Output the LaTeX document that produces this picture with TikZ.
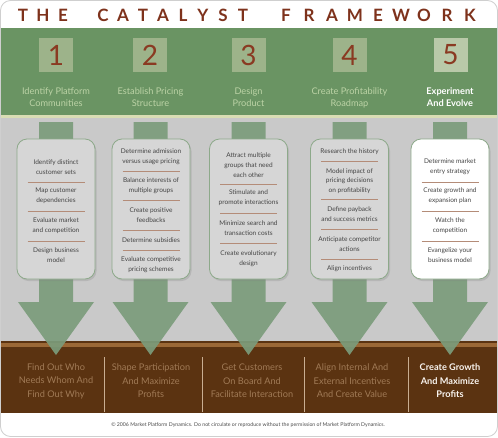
\documentclass[tikz,border=0pt]{standalone}
\usepackage{fontspec}
\setmainfont{Lato}
\usetikzlibrary{shadows}
\definecolor{titlered}{HTML}{7E321C}
\definecolor{bandgreen}{HTML}{6A9463}
\definecolor{numbox}{HTML}{9DB38A}
\definecolor{numboxfive}{HTML}{B9C9A9}
\definecolor{numred}{HTML}{8A3A22}
\definecolor{hdrtext}{HTML}{BCD3A6}
\definecolor{stripe}{HTML}{D9DDB4}
\definecolor{graybg}{HTML}{C9C9C9}
\definecolor{boxfill}{HTML}{D6D6D6}
\definecolor{boxedge}{HTML}{8DA98A}
\definecolor{arrowgreen}{HTML}{7B9C7B}
\definecolor{darkbrown}{HTML}{5B3311}
\definecolor{brownline}{HTML}{9B6836}
\definecolor{sepcol}{HTML}{B48C78}
\definecolor{bottomtext}{HTML}{A07A56}
\definecolor{divcol}{HTML}{C9AE92}
\definecolor{framecol}{HTML}{CFCFCF}
\definecolor{boxtext}{HTML}{454545}
\tikzset{
  titleletter/.style={text=titlered, font=\fontsize{17}{17}\selectfont\bfseries, inner sep=0pt},
  numsq/.style={fill=numbox, minimum width=34pt, minimum height=34pt, inner sep=0pt, text=numred, font=\fontsize{28}{28}\selectfont},
  hdr/.style={text=hdrtext, align=center, font=\fontsize{9.2}{12}\selectfont, inner sep=0pt},
  stepbox/.style={draw=boxedge, line width=0.8pt, fill=boxfill, rounded corners=10pt, minimum width=78pt, minimum height=140pt, inner sep=0pt, drop shadow={shadow xshift=1.5pt, shadow yshift=-2pt, opacity=0.25}},
  item/.style={text=boxtext, align=center, font=\fontsize{6.5}{9.8}\selectfont, inner sep=0pt},
  sepline/.style={draw=sepcol, line width=0.9pt},
  bottomtxt/.style={text=bottomtext, align=center, font=\fontsize{9.2}{13.5}\selectfont, inner sep=0pt},
  divline/.style={draw=divcol, line width=0.9pt},
}
\begin{document}
\begin{tikzpicture}[x=1pt,y=-1pt]
\useasboundingbox (0,0) rectangle (498,437);
% background bands
\begin{scope}
\clip[rounded corners=10pt] (0.5,0.5) rectangle (497.5,436.5);
\fill[white] (0,0) rectangle (498,437);
\fill[bandgreen] (0,28) rectangle (498,115);
\fill[stripe] (0,115) rectangle (498,118);
\fill[graybg] (0,118) rectangle (498,341);
\fill[darkbrown] (0,341) rectangle (498,413);
\fill[brownline] (0,342.5) rectangle (498,346.5);
\end{scope}
\draw[framecol, rounded corners=10pt, line width=0.8pt] (0.5,0.5) rectangle (497.5,436.5);
% title
\foreach \ch/\x/\nm in {T/23/a,H/43/b,E/63/c,C/103/d,A/123/e,T/143/f,A/163/g,L/183/h,Y/203/i,S/223/j,T/243/k,F/286/l,R/309/m,A/332/n,M/355/o,E/378/p,W/401/q,O/424/r,R/447/s,K/470/t}
  \node[titleletter] (title\nm) at (\x,15) {\ch};
% numbers
\node[numsq] (n1) at (56,55) {1};
\node[numsq] (n2) at (150,55) {2};
\node[numsq] (n3) at (248.5,55) {3};
\node[numsq] (n4) at (349.5,55) {4};
\node[numsq, fill=numboxfive] (n5) at (450.5,55) {5};
% header labels
\node[hdr] (h1) at (56,97.5) {Identify Platform\\Communities};
\node[hdr] (h2) at (150.5,97.5) {Establish Pricing\\Structure};
\node[hdr] (h3) at (248.5,97.5) {Design\\Product};
\node[hdr] (h4) at (349.5,97.5) {Create Profitability\\Roadmap};
\node[hdr, text=white, font=\fontsize{9.2}{12}\selectfont\bfseries] (h5) at (450,97.5) {Experiment\\And Evolve};
% arrows
\foreach \cx in {56,150.5,248.5,349.5,450}
  \fill[arrowgreen, opacity=0.92] ({\cx-17},122) -- ({\cx+17},122) -- ({\cx+17},302) -- ({\cx+38},302) -- (\cx,355) -- ({\cx-38},302) -- ({\cx-17},302) -- cycle;
% boxes
\node[stepbox] (b1) at (56,209) {};
\node[stepbox] (b2) at (151,209) {};
\node[stepbox] (b3) at (248.5,209) {};
\node[stepbox] (b4) at (349.5,209) {};
\node[stepbox, fill=white] (b5) at (450,209) {};
% box 1
\node[item] (i11) at (56,167) {Identify distinct\\customer sets};
\draw[sepline] (27.5,182) -- (84.5,182);
\node[item] (i12) at (56,196) {Map customer\\dependencies};
\draw[sepline] (27.5,211) -- (84.5,211);
\node[item] (i13) at (56,225.5) {Evaluate market\\and competition};
\draw[sepline] (27.5,241) -- (84.5,241);
\node[item] (i14) at (56,255) {Design business\\model};
% box 2
\node[item] (i21) at (151,157) {Determine admission\\versus usage pricing};
\draw[sepline] (122.5,171) -- (179.5,171);
\node[item] (i22) at (151,186) {Balance interests of\\multiple groups};
\draw[sepline] (122.5,200) -- (179.5,200);
\node[item] (i23) at (151,215) {Create positive\\feedbacks};
\draw[sepline] (122.5,230) -- (179.5,230);
\node[item] (i24) at (151,240) {Determine subsidies};
\draw[sepline] (122.5,250) -- (179.5,250);
\node[item] (i25) at (151,264.5) {Evaluate competitive\\pricing schemes};
% box 3
\node[item] (i31) at (248.5,165) {Attract multiple\\groups that need\\each other};
\draw[sepline] (220,184) -- (277,184);
\node[item] (i32) at (248.5,198) {Stimulate and\\promote interactions};
\draw[sepline] (220,213) -- (277,213);
\node[item] (i33) at (248.5,228.5) {Minimize search and\\transaction costs};
\draw[sepline] (220,243) -- (277,243);
\node[item] (i34) at (248.5,259) {Create evolutionary\\design};
% box 4
\node[item] (i41) at (349.5,152) {Research the history};
\draw[sepline] (321,161) -- (378,161);
\node[item] (i42) at (349.5,181) {Model impact of\\pricing decisions\\on profitability};
\draw[sepline] (321,199) -- (378,199);
\node[item] (i43) at (349.5,214.5) {Define payback\\and success metrics};
\draw[sepline] (321,229) -- (378,229);
\node[item] (i44) at (349.5,244) {Anticipate competitor\\actions};
\draw[sepline] (321,259) -- (378,259);
\node[item] (i45) at (349.5,269) {Align incentives};
% box 5
\node[item] (i51) at (450,167) {Determine market\\entry strategy};
\draw[sepline] (421.5,182) -- (478.5,182);
\node[item] (i52) at (450,196) {Create growth and\\expansion plan};
\draw[sepline] (421.5,211) -- (478.5,211);
\node[item] (i53) at (450,226) {Watch the\\competition};
\draw[sepline] (421.5,241) -- (478.5,241);
\node[item] (i54) at (450,255) {Evangelize your\\business model};
% dividers in brown band
\foreach \dx in {104,202,304,408}
  \draw[divline] (\dx,357) -- (\dx,412);
% bottom texts
\node[bottomtxt] (o1) at (56,381) {Find Out Who\\Needs Whom And\\Find Out Why};
\node[bottomtxt] (o2) at (151,381) {Shape Participation\\And Maximize\\Profits};
\node[bottomtxt] (o3) at (252,381) {Get Customers\\On Board And\\Facilitate Interaction};
\node[bottomtxt] (o4) at (352,381) {Align Internal And\\External Incentives\\And Create Value};
\node[bottomtxt, text=white!92!brown, font=\fontsize{9.2}{13.5}\selectfont\bfseries] (o5) at (450,381) {Create Growth\\And Maximize\\Profits};
% footer
\node[inner sep=0pt, text=black!70, font=\fontsize{5.2}{6}\selectfont] (foot) at (248,425) {© 2006 Market Platform Dynamics. Do not circulate or reproduce without the permission of Market Platform Dynamics.};
\end{tikzpicture}
\end{document}
